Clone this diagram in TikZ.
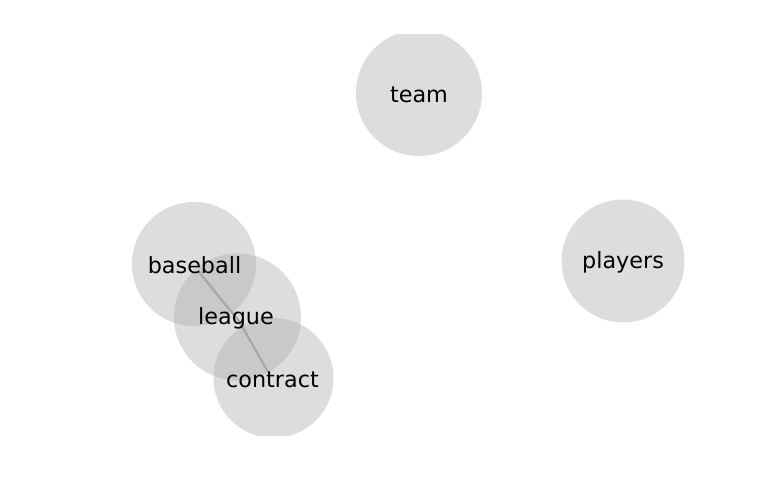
\documentclass[tikz,border=0pt]{standalone}
\usepackage{fontspec}
\setmainfont{DejaVu Sans}
\definecolor{nodefill}{RGB}{170,170,170}
\definecolor{edgecol}{RGB}{140,140,140}
\tikzset{
  bubble/.style={circle, inner sep=0pt, fill=nodefill, fill opacity=0.4, draw=none},
  lbl/.style={inner sep=0pt, text=black, font=\fontsize{22.3}{26}\selectfont},
  edge/.style={draw=edgecol, line width=2.2pt, opacity=0.8}
}
\begin{document}
\begin{tikzpicture}[x=1pt,y=-1pt]
\useasboundingbox (0,0) rectangle (768,500);
\begin{scope}
\clip (0,35) rectangle (768,435);
\coordinate (eb) at (198,271);
\coordinate (el) at (239,321);
\coordinate (ec) at (268,372);
\draw[edge] (eb) -- (el) -- (ec);
\node[bubble, minimum size=126pt] (cteam) at (419,93) {};
\node[bubble, minimum size=124pt] (cbaseball) at (194,264) {};
\node[bubble, minimum size=123pt] (cplayers) at (623,261) {};
\node[bubble, minimum size=127pt] (cleague) at (237.5,317) {};
\node[bubble, minimum size=120pt] (ccontract) at (273.5,378) {};
\end{scope}
\node[lbl] (team) at (419,94.5) {team};
\node[lbl] (baseball) at (194.5,265.5) {baseball};
\node[lbl] (players) at (623,262.5) {players};
\node[lbl] (league) at (236,318.5) {league};
\node[lbl] (contract) at (272.5,379.5) {contract};
\end{tikzpicture}
\end{document}
